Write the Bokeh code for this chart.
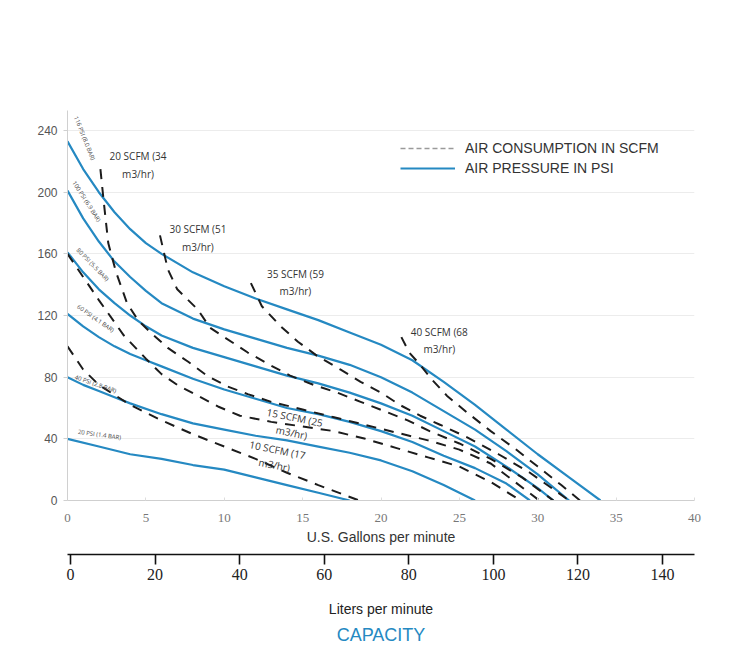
from bokeh.plotting import figure
from bokeh.models import Range1d, LinearAxis, FixedTicker, Legend, LegendItem, Title
from bokeh.core.properties import value
from bokeh.embed import file_html
from bokeh.resources import INLINE

# ---------------- data ----------------
# Air pressure curves (blue): GPM vs total head
p116_x = [0, 1, 2, 3, 4, 5, 6, 8, 10, 12, 14, 16, 18, 20, 22, 24, 26, 28, 30, 32, 34]
p116_y = [233, 215, 200, 187, 176, 167, 160, 148, 139, 131, 124, 117, 109, 101, 91, 77, 62, 46, 30, 15, 0]
p100_x = [0, 1, 2, 3, 4, 5, 6, 8, 10, 12, 14, 16, 18, 20, 22, 24, 26, 28, 30, 32]
p100_y = [201, 183, 168, 155, 145, 136, 128, 118, 111, 105, 99, 94, 88, 80, 70, 58, 46, 32, 17, 0]
p80_x = [0, 1, 2, 3, 4, 5, 6, 8, 10, 12, 14, 16, 18, 20, 22, 24, 26, 28, 30, 31]
p80_y = [161, 148, 137, 128, 120, 113, 107, 99, 93, 87, 81, 76, 70, 63, 55, 45, 35, 22, 8, 0]
p60_x = [0, 1, 2, 3, 4, 5, 6, 8, 10, 12, 14, 16, 18, 20, 22, 24, 26, 28, 29.5]
p60_y = [121, 113, 106, 100, 95, 91, 87, 79, 72, 66, 60, 56, 51, 45, 38, 29, 21, 11, 0]
p40_x = [0, 1, 2, 3, 4, 6, 8, 10, 12, 14, 16, 18, 20, 22, 24, 26]
p40_y = [80, 75, 71, 67, 63, 56, 50, 46, 42, 39, 35, 31, 26, 19, 10, 0]
p20_x = [0, 2, 4, 6, 8, 10, 12, 14, 16, 18]
p20_y = [40, 35, 30, 27, 23, 20, 15, 10, 5, 0]

psi_curves = [(p116_x, p116_y), (p100_x, p100_y), (p80_x, p80_y),
              (p60_x, p60_y), (p40_x, p40_y), (p20_x, p20_y)]
psi_labels = ["116 PSI (8.0 BAR)", "100 PSI (6.9 BAR)", "80 PSI (5.5 BAR)",
              "60 PSI (4.1 BAR)", "40 PSI (2.8 BAR)", "20 PSI (1.4 BAR)"]

# Air consumption curves (dashed)
s10_x = [0, 1, 2, 4, 6, 8, 10, 12, 14, 16, 18.6]
s10_y = [100, 85, 75, 62, 52, 43, 35, 27, 18, 10, 0]
s15_x = [0, 1, 2, 3.6, 5, 6, 7, 8.3, 9.6, 11, 13, 15, 17, 19, 21, 23, 25, 27, 28.9]
s15_y = [160, 145, 130, 107, 92, 82, 75, 68, 61, 55, 51, 48, 45, 40, 34, 28, 22, 12, 0]
s20_x = [2.1, 2.3, 2.6, 3.1, 3.8, 4.5, 5.3, 6.4, 7.7, 8.9, 10.2, 11.5, 13, 15, 17, 19, 21, 23, 25, 27, 30.1]
s20_y = [215, 195, 167, 148, 128, 117, 109, 99, 90, 81, 74, 69, 64, 59, 54, 49, 44, 39, 33, 24, 0]
s30_x = [5.9, 6.4, 7, 8.3, 9.1, 10, 11.5, 12.9, 14.2, 15.7, 17.2, 18.7, 20.2, 21.7, 23.1, 25, 27, 29, 31]
s30_y = [172, 150, 137, 124, 112, 106, 96, 88, 81, 75, 70, 64, 58, 52, 45, 37, 27, 15, 0]
s35_x = [11.7, 12.4, 13.6, 14.7, 15.9, 17.4, 18.7, 20, 21.2, 22.5, 23.8, 25.5, 27.5, 29.5, 32]
s35_y = [141, 126, 113, 103, 94, 85, 77, 70, 62, 55, 49, 41, 30, 18, 0]
s40_x = [21.3, 21.8, 22.5, 23.2, 24.2, 25.5, 27, 28.5, 30, 31.5, 32.7]
s40_y = [106, 96, 88, 79, 68, 57, 45, 34, 22, 10, 0]

scfm_curves = [(s10_x, s10_y), (s15_x, s15_y), (s20_x, s20_y),
               (s30_x, s30_y), (s35_x, s35_y), (s40_x, s40_y)]
scfm_labels = ["20 SCFM (34\nm3/hr)", "30 SCFM (51\nm3/hr)", "35 SCFM (59\nm3/hr)",
               "40 SCFM (68\nm3/hr)"]
scfm_labels_low = ["15 SCFM (25\nm3/hr)", "10 SCFM (17\nm3/hr)"]

y_ticks = [0, 40, 80, 120, 160, 200, 240]
gpm_ticks = [0, 5, 10, 15, 20, 25, 30, 35, 40]
lpm_ticks = [0, 20, 40, 60, 80, 100, 120, 140]

# label anchor positions (layout)
psi_lab_x = [1.08, 1.21, 1.6, 1.79, 1.79, 2.04]
psi_lab_y = [235, 194, 153, 118, 75.5, 42.6]
psi_lab_ang = [-1.19, -1.0, -0.8, -0.61, -0.33, -0.14]
scfm_lab_x = [4.5, 8.32, 14.54, 23.72]
scfm_lab_y = [228, 180.6, 151.6, 114]
scfm_low_x = [14.4, 13.3]
scfm_low_y = [49, 28]

BLUE = "#2589c2"

p = figure(width=742, height=648, x_range=Range1d(0, 40), y_range=Range1d(0, 253),
           output_backend="svg", toolbar_location=None,
           min_border_left=67, min_border_right=48, min_border_top=110, min_border_bottom=146)
p.outline_line_color = None
p.xgrid.grid_line_color = None
p.ygrid.grid_line_color = "#ececec"
p.ygrid.ticker = FixedTicker(ticks=y_ticks)

# pressure curves
blue_renderers = []
for xs, ys in psi_curves:
    r = p.line(xs, ys, line_color=BLUE, line_width=2.2, line_join="round")
    blue_renderers.append(r)

# consumption curves
dash_renderers = []
for xs, ys in scfm_curves:
    r = p.line(xs, ys, line_color="#1c1c1c", line_width=2, line_dash="10 8")
    dash_renderers.append(r)

# legend sample for dashed (no visible data)
dash_dummy = p.line(x=[float("nan")], y=[float("nan")], line_color="#9a9a9a",
                    line_width=1.3, line_dash="5 3")

# PSI labels
p.text(x=psi_lab_x, y=psi_lab_y, text=psi_labels, angle=psi_lab_ang,
       text_font=value("Open Sans"), text_font_size="6px", text_color="#444444",
       text_align="center", text_baseline="middle")

# SCFM labels
p.text(x=scfm_lab_x, y=scfm_lab_y, text=scfm_labels,
       text_font=value("Open Sans"), text_font_size="10px", text_color="#333333",
       text_align="center", text_baseline="top", text_line_height=1.25)
p.text(x=scfm_low_x, y=scfm_low_y, text=scfm_labels_low, angle=-0.2,
       text_font=value("Open Sans"), text_font_size="10px", text_color="#333333",
       text_align="center", text_baseline="middle", text_line_height=1.1)

# legend
legend = Legend(items=[LegendItem(label="AIR CONSUMPTION IN SCFM", renderers=[dash_dummy]),
                       LegendItem(label="AIR PRESSURE IN PSI", renderers=[blue_renderers[0]])],
                location=(333, 324), orientation="vertical")
legend.border_line_color = None
legend.background_fill_alpha = 0
legend.margin = 0
legend.padding = 0
legend.glyph_width = 55
legend.glyph_height = 16
legend.label_height = 16
legend.spacing = 4
legend.label_standoff = 10
legend.label_text_font = "Liberation Sans"
legend.label_text_font_size = "14px"
legend.label_text_color = "#333333"
p.add_layout(legend, "center")

# y axis
ya = p.yaxis[0]
ya.ticker = FixedTicker(ticks=y_ticks)
ya.axis_line_color = "#d0d0d0"
ya.major_tick_line_color = "#d0d0d0"
ya.major_tick_out = 4
ya.major_tick_in = 0
ya.minor_tick_line_color = None
ya.major_label_text_font = "Liberation Sans"
ya.major_label_text_font_size = "12px"
ya.major_label_text_color = "#555555"
ya.major_label_standoff = 6

# primary x axis (GPM)
xa = p.xaxis[0]
xa.ticker = FixedTicker(ticks=gpm_ticks)
xa.axis_line_color = "#cfcfcf"
xa.major_tick_line_color = "#dddddd"
xa.major_tick_out = 0
xa.major_tick_in = 3
xa.minor_tick_line_color = None
xa.major_label_text_font = "Liberation Sans Narrow"
xa.major_label_text_font_size = "13px"
xa.major_label_text_color = "#777777"
xa.major_label_standoff = 13
xa.axis_label = "U.S. Gallons per minute"
xa.axis_label_text_font = "Liberation Sans"
xa.axis_label_text_font_size = "14px"
xa.axis_label_text_font_style = "normal"
xa.axis_label_text_color = "#333333"
xa.axis_label_standoff = 4

# spacer between axes
p.add_layout(Title(text=" ", text_font_size="4px", standoff=0), "below")

# secondary x axis (LPM)
p.extra_x_ranges = {"lpm": Range1d(-0.71, 147.55)}
la = LinearAxis(x_range_name="lpm", ticker=FixedTicker(ticks=lpm_ticks))
la.axis_line_color = "#111111"
la.axis_line_width = 1.6
la.major_tick_line_color = "#111111"
la.major_tick_line_width = 1.6
la.major_tick_out = 10
la.major_tick_in = 0
la.minor_tick_line_color = None
la.major_label_text_font = "Liberation Sans Narrow"
la.major_label_text_font_size = "16px"
la.major_label_text_color = "#222222"
la.major_label_standoff = 4
la.axis_label = "Liters per minute"
la.axis_label_text_font = "Liberation Sans"
la.axis_label_text_font_size = "14px"
la.axis_label_text_font_style = "normal"
la.axis_label_text_color = "#222222"
la.axis_label_standoff = 18
p.add_layout(la, "below")

p.add_layout(Title(text="CAPACITY", align="center", offset=15, text_color=BLUE,
                   text_font="Liberation Sans", text_font_size="18px",
                   text_font_style="normal", standoff=7), "below")

open("out.html", "w").write(file_html(p, INLINE))
